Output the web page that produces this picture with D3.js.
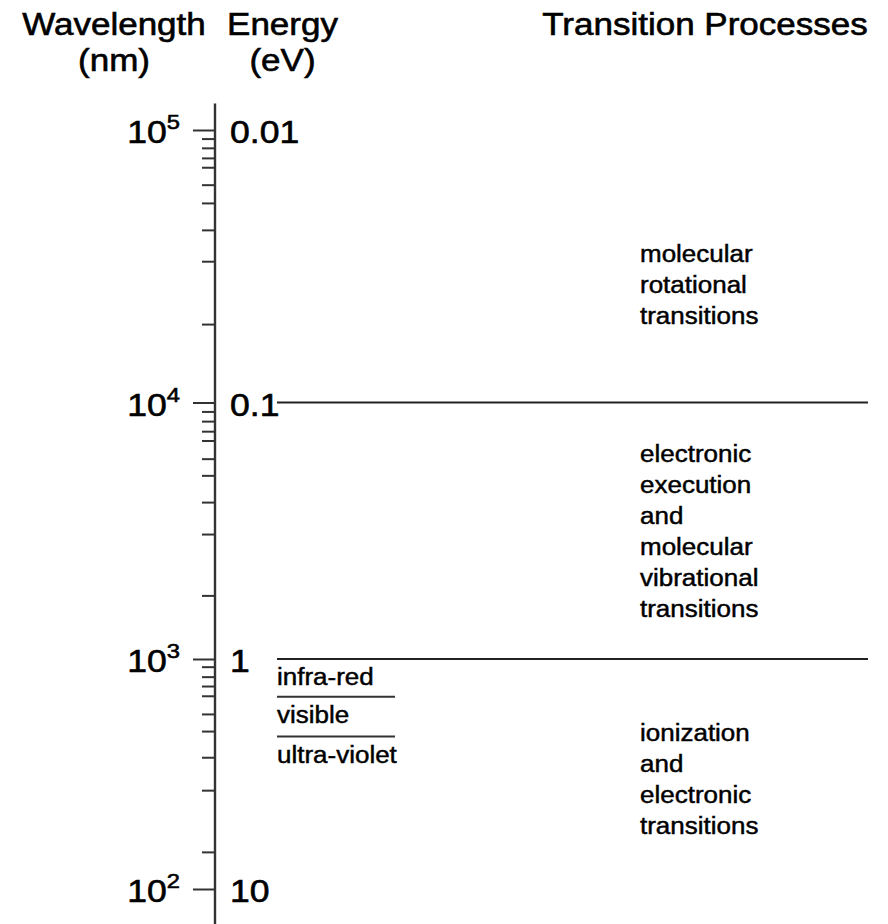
<!DOCTYPE html>
<html>
<head>
<meta charset="utf-8">
<script src="https://cdn.jsdelivr.net/npm/d3@7"></script>
<style>
  body { margin: 0; background: #fff; }
  svg { display: block; font-family: "Liberation Sans", Arial, Helvetica, sans-serif; }
</style>
</head>
<body>
<div id="chart"></div>
<script>
// Wavelength / energy scale with the transition processes for each range

// Major ticks (wavelength, nm) and the matching energy labels (eV)
const majorWavelengths = [1e5, 1e4, 1e3, 1e2];
const energyLabels = ['0.01', '0.1', '1', '10'];

// Minor ticks (nm), decade by decade
const minorWavelengths = [
  93000, 86000, 79000, 73000, 63000, 54000, 43000, 33000, 19400,
  9230, 8460, 7730, 7110, 6040, 5200, 4090, 3070, 1770,
  926, 838, 763, 692, 577, 486, 374, 269, 145
];

// Boundaries between the transition regions (nm)
const regionBoundaries = [1e4, 1e3];

// Spectral bands below 1 eV and the edges between them (nm)
const bandNames = ['infra-red', 'visible', 'ultra-violet'];
const bandEdges = [685, 460];

// Transition processes, text lines + wavelength at the middle of each block
const processLines = [
  ['molecular', 'rotational', 'transitions'],
  ['electronic', 'execution', 'and', 'molecular', 'vibrational', 'transitions'],
  ['ionization', 'and', 'electronic', 'transitions']
];
const processCenters = [27000, 3150, 300];

(function() {
  const width = 888;
  const height = 924;
  const SX = 1.13;          // text in the reference is a bit wide
  const axisX = 215;
  const lineStart = 277;
  const lineEnd = 868;
  const bandEnd = 395;
  const processX = 640;
  const lineGap = 31;
  const ink = '#222';

  const svg = d3.select('#chart')
    .append('svg')
    .attr('width', width)
    .attr('height', height)
    .style('background', 'white');

  // piecewise log scale: the decades in the drawing are not equally long
  const y = d3.scaleLog()
    .domain(majorWavelengths)
    .range([130, 402.5, 659, 889]);

  // helper: text stretched horizontally around its anchor, slightly heavy
  function label(x, yy, txt, size, anchor) {
    return svg.append('text')
      .attr('transform', `translate(${x},${yy}) scale(${SX},1)`)
      .attr('text-anchor', anchor || 'start')
      .attr('font-size', size)
      .attr('fill', '#000')
      .attr('stroke', '#000')
      .attr('stroke-width', size > 26 ? 0.6 : 0.45)
      .text(txt);
  }

  // Column titles
  label(114, 35, 'Wavelength', 31, 'middle');
  label(114, 71, '(nm)', 31, 'middle');
  label(282.5, 35, 'Energy', 31, 'middle');
  label(282.5, 71, '(eV)', 31, 'middle');
  label(705, 35, 'Transition Processes', 31, 'middle');

  // Axis line (runs a little past the end ticks)
  svg.append('line')
    .attr('x1', axisX).attr('x2', axisX)
    .attr('y1', y(125000)).attr('y2', y(70))
    .attr('stroke', '#333')
    .attr('stroke-width', 2.4);

  // Minor + major ticks through d3 axes
  const minorAxis = d3.axisLeft(y).tickValues(minorWavelengths).tickSize(13).tickFormat('');
  const majorAxis = d3.axisLeft(y).tickValues(majorWavelengths).tickSize(22).tickFormat('');

  [minorAxis, majorAxis].forEach(ax => {
    const g = svg.append('g')
      .attr('transform', `translate(${axisX},0)`)
      .call(ax);
    g.select('.domain').remove();
    g.selectAll('.tick line')
      .attr('stroke', '#333')
      .attr('stroke-width', 2);
  });

  // Wavelength labels 10^n on the left, energy on the right
  majorWavelengths.forEach((w, i) => {
    const t = label(180, y(w) + 13, '', 31.5, 'end');
    t.append('tspan').text('10');
    t.append('tspan')
      .attr('dy', -14)
      .attr('font-size', 21)
      .text(String(Math.round(Math.log10(w))));
    label(230, y(w) + 13, energyLabels[i], 31.5, 'start');
  });

  // Region boundary lines
  svg.selectAll('.boundary')
    .data(regionBoundaries)
    .join('line')
    .attr('class', 'boundary')
    .attr('x1', lineStart).attr('x2', lineEnd)
    .attr('y1', d => y(d)).attr('y2', d => y(d))
    .attr('stroke', ink)
    .attr('stroke-width', 2);

  // Spectral bands
  svg.selectAll('.band-edge')
    .data(bandEdges)
    .join('line')
    .attr('class', 'band-edge')
    .attr('x1', lineStart).attr('x2', bandEnd)
    .attr('y1', d => y(d)).attr('y2', d => y(d))
    .attr('stroke', '#333')
    .attr('stroke-width', 2);

  const bandTops = [1e3].concat(bandEdges);
  bandNames.forEach((name, i) => {
    label(lineStart, y(bandTops[i]) + 26, name, 23, 'start');
  });

  // Transition process text blocks
  processLines.forEach((lines, i) => {
    const cy = y(processCenters[i]);
    lines.forEach((txt, j) => {
      const by = cy + 8 + (j - (lines.length - 1) / 2) * lineGap;
      label(processX, by, txt, 23, 'start');
    });
  });
})();
</script>
</body>
</html>
